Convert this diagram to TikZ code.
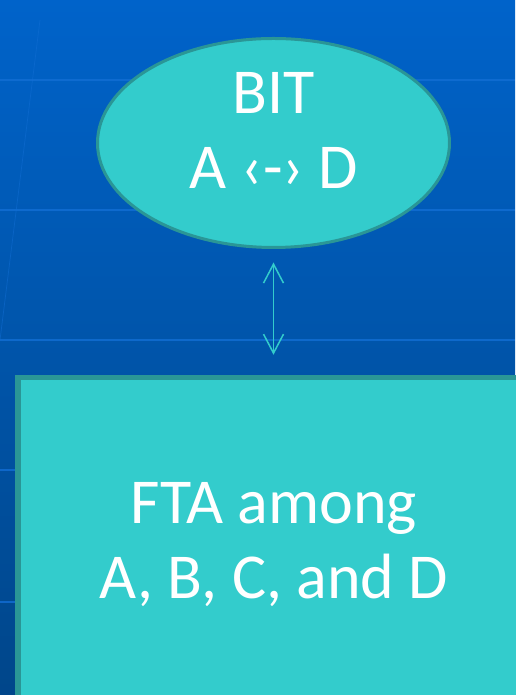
\documentclass[tikz,border=0pt]{standalone}
\usepackage{fontspec}
\setmainfont{Carlito}
\usetikzlibrary{shapes.geometric,arrows.meta}
\definecolor{tealfill}{RGB}{51,204,204}
\definecolor{tealline}{RGB}{42,150,150}
\definecolor{bgtop}{RGB}{0,99,202}
\definecolor{bgbot}{RGB}{0,70,138}
\definecolor{gridc}{RGB}{18,110,212}
\tikzset{
  x=1pt,y=1pt,
  bigtext/.style={text=white,font=\fontsize{64}{75}\selectfont,align=center,inner sep=0pt},
  gridline/.style={draw=gridc,line width=1.4pt,opacity=0.8},
  linkarrow/.style={draw=tealfill,line width=1.5pt,{Straight Barb[length=19pt,width=20pt]}-{Straight Barb[length=19pt,width=20pt]}}
}
\begin{document}
\begin{tikzpicture}
\useasboundingbox (0,0) rectangle (515,695);
\shade[top color=bgtop,bottom color=bgbot] (0,0) rectangle (515,695);
\foreach \yy in {80,210,340,470,602}{\draw[gridline] (0,695-\yy) -- (515,695-\yy);}
\draw[draw=gridc,line width=0.8pt,opacity=0.5] (40,675) -- (0,355);
\node[ellipse,draw=tealline,fill=tealfill,line width=3pt,minimum width=352pt,minimum height=209pt,inner sep=0pt,outer sep=0pt] (bit) at (273.5,552) {};
\node[bigtext] (bittext) at (274,565) {BIT\\A ‹-› D};
\node[rectangle,draw=tealline,fill=tealfill,line width=5.5pt,minimum width=512pt,minimum height=334pt,inner sep=0pt,outer sep=0pt,anchor=north west] (fta) at (17.75,317.25) {};
\node[bigtext] (ftatext) at (274,150) {FTA among\\A, B, C, and D};
\draw[linkarrow] ([yshift=-15pt]bit.south) -- ([yshift=23pt]fta.north -| bit.south);
\end{tikzpicture}
\end{document}
